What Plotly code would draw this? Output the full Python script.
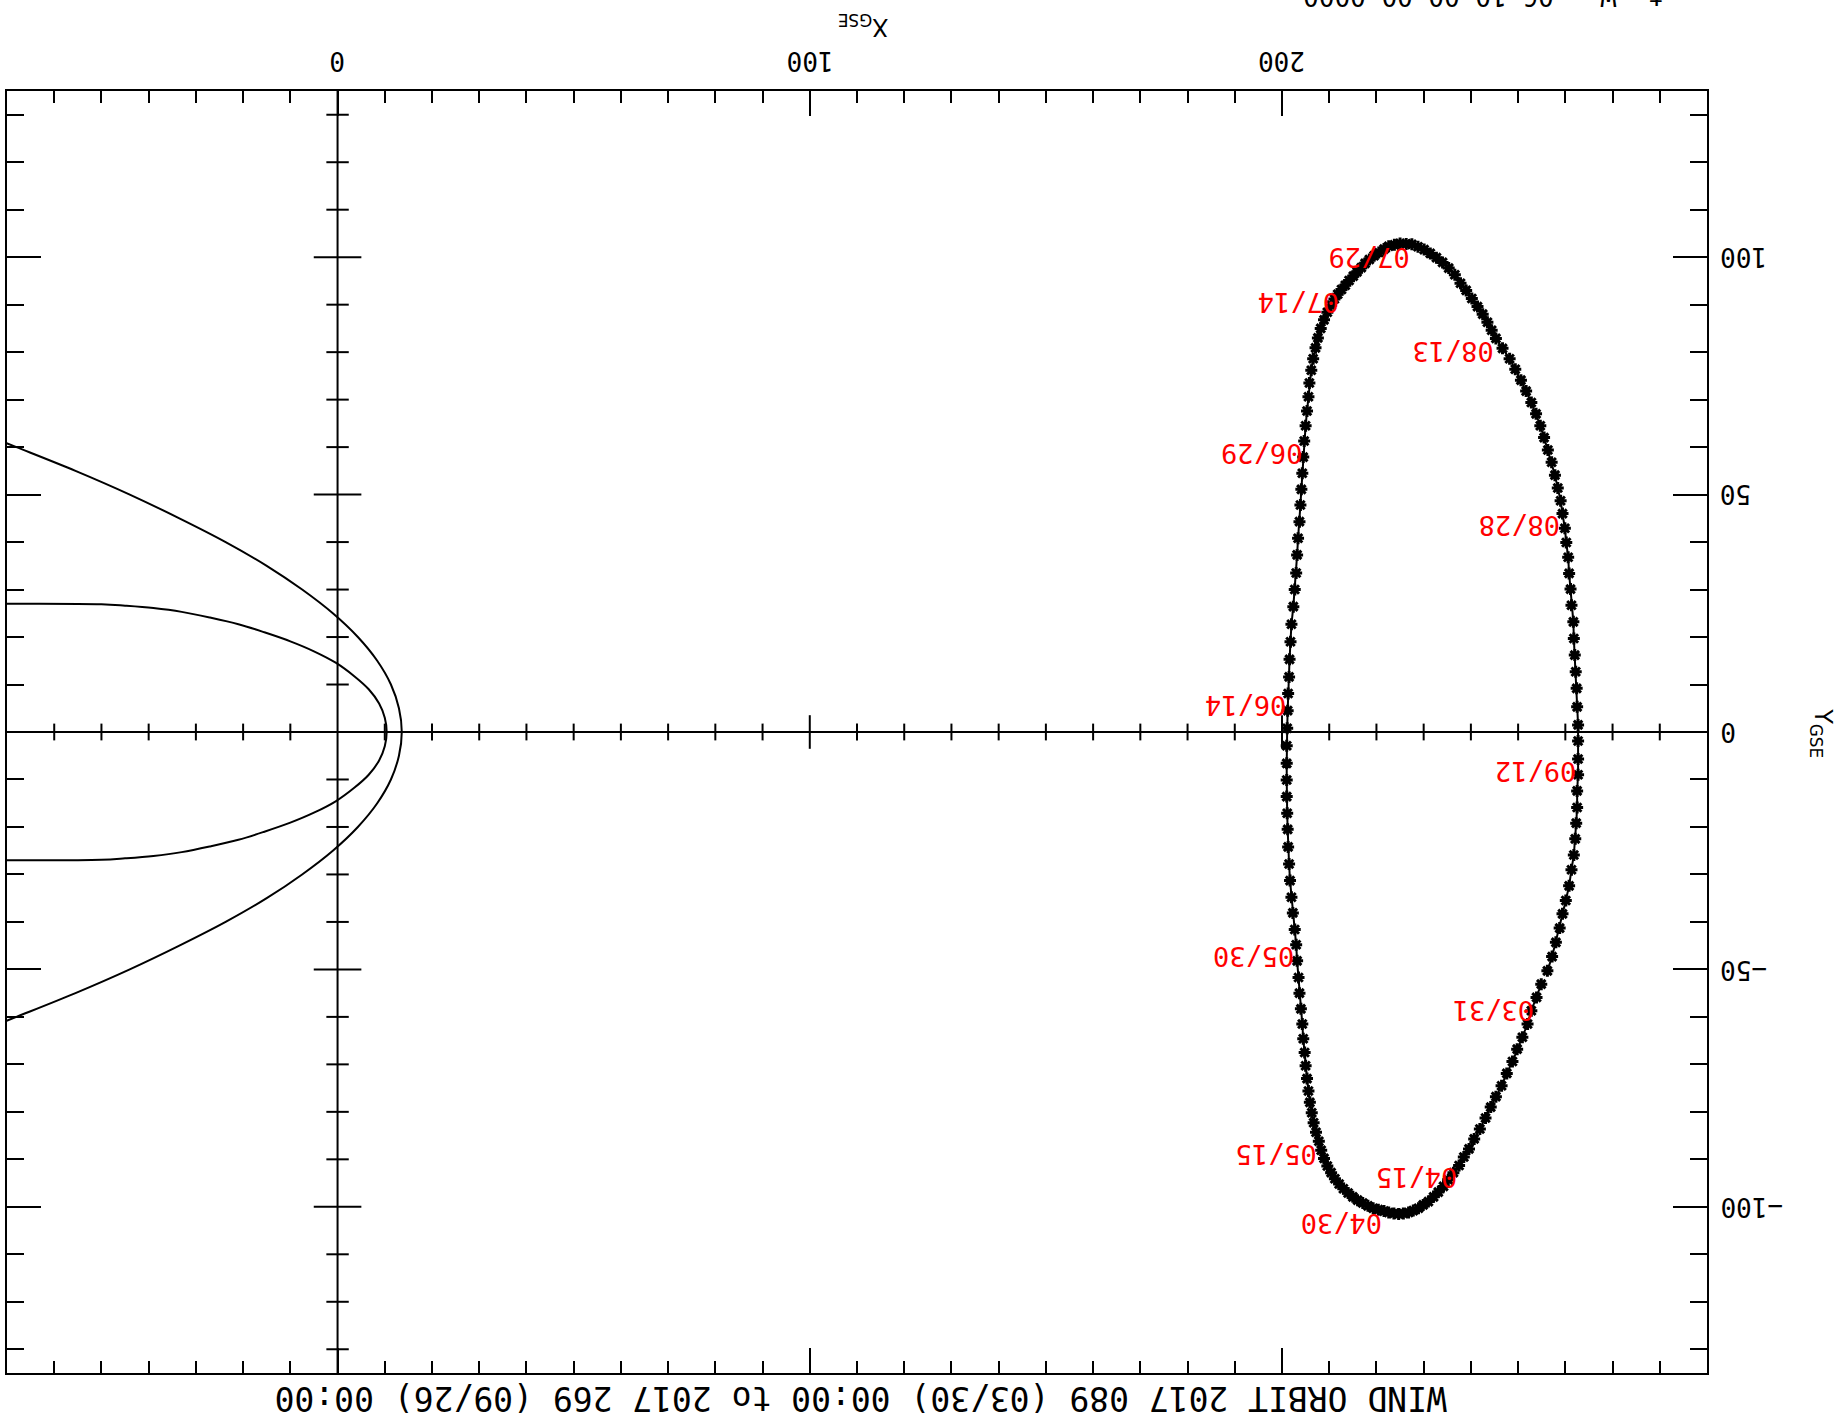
import numpy as np
import plotly.graph_objects as go

# ---------------- data ----------------
# Wind daily positions (GSE, Re), 2017-03-30 .. 2017-09-26
orbit_x = [254.9, 253.9, 252.8, 252.0, 250.9, 249.8, 248.8, 247.6, 246.5, 245.3,
           244.2, 243.1, 241.9, 240.7, 239.6, 238.5, 237.5, 236.3, 235.2, 234.2,
           233.1, 232.1, 231.0, 229.9, 228.9, 227.8, 226.8, 225.7, 224.7, 223.7,
           222.6, 221.6, 220.4, 219.3, 218.2, 217.1, 216.0, 215.0, 214.0, 213.0,
           212.1, 211.2, 210.4, 209.6, 208.9, 208.3, 207.8, 207.2, 206.7, 206.3,
           205.9, 205.6, 205.3, 205.0, 204.8, 204.5, 204.3, 204.0, 203.7, 203.5,
           203.2, 203.0, 202.7, 202.3, 202.0, 201.7, 201.5, 201.3, 201.2, 201.1,
           201.0, 201.0, 201.0, 201.0, 201.1, 201.2, 201.3, 201.5, 201.6, 201.8,
           202.0, 202.4, 202.7, 203.0, 203.2, 203.4, 203.7, 203.9, 204.1, 204.3,
           204.5, 204.7, 205.0, 205.3, 205.6, 205.8, 206.2, 206.6, 207.1, 207.6,
           208.2, 208.9, 209.6, 210.4, 211.1, 211.8, 212.6, 213.4, 214.2, 215.1,
           215.9, 216.8, 217.6, 218.5, 219.5, 220.5, 221.6, 222.6, 223.8, 225.0,
           226.3, 227.5, 228.8, 230.1, 231.4, 232.7, 234.0, 235.3, 236.6, 237.8,
           239.0, 240.2, 241.4, 242.5, 243.5, 244.4, 245.3, 246.7, 248.2, 249.4,
           250.6, 251.7, 252.8, 253.8, 254.7, 255.5, 256.3, 257.1, 257.8, 258.4,
           259.0, 259.4, 259.9, 260.2, 260.6, 260.8, 261.1, 261.3, 261.7, 261.8,
           262.0, 262.2, 262.4, 262.5, 262.7, 262.7, 262.7, 262.7, 262.5, 262.5,
           262.3, 262.1, 261.8, 261.3, 260.8, 260.1, 259.4, 258.8, 258.0, 257.2,
           256.2]
orbit_y = [-53.1, -55.9, -58.7, -61.5, -64.3, -66.8, -69.4, -71.9, -74.5, -76.8,
           -79.0, -81.3, -83.6, -85.7, -87.8, -89.5, -91.3, -92.8, -94.3, -95.7,
           -96.9, -97.9, -98.9, -99.6, -100.3, -100.8, -101.2, -101.4, -101.5, -101.4,
           -101.2, -100.9, -100.6, -100.3, -99.8, -99.2, -98.6, -97.9, -97.1, -96.2,
           -95.2, -94.1, -92.8, -91.4, -89.8, -88.1, -86.2, -84.3, -82.3, -80.2,
           -78.0, -75.6, -73.0, -70.3, -67.5, -64.6, -61.5, -58.3, -55.0, -51.7,
           -48.2, -44.8, -41.6, -38.1, -34.8, -31.3, -27.8, -24.2, -20.5, -17.1,
           -13.6, -10.1, -6.6, -2.9, 0.8, 4.5, 8.1, 11.6, 15.3, 19.0,
           22.7, 26.4, 30.0, 33.5, 37.3, 40.8, 44.3, 47.8, 51.1, 54.5,
           57.9, 61.3, 64.5, 67.6, 70.6, 73.5, 76.2, 78.6, 80.9, 83.0,
           85.0, 86.8, 88.4, 89.9, 91.2, 92.2, 93.2, 94.1, 95.1, 96.0,
           96.9, 97.8, 98.7, 99.5, 100.3, 101.0, 101.7, 102.3, 102.6, 102.9,
           102.8, 102.7, 102.2, 101.6, 100.8, 99.9, 98.9, 97.7, 96.3, 94.5,
           93.0, 91.3, 89.6, 88.0, 86.3, 84.6, 82.9, 80.8, 78.6, 76.4,
           74.1, 71.8, 69.4, 67.0, 64.5, 62.0, 59.4, 56.8, 54.1, 51.4,
           48.7, 46.0, 42.9, 39.9, 36.8, 33.4, 30.1, 26.7, 23.2, 19.7,
           16.2, 12.7, 9.2, 5.3, 1.5, -1.9, -5.7, -9.0, -12.4, -15.9,
           -19.2, -22.5, -25.9, -29.0, -32.4, -35.5, -38.3, -41.3, -44.3, -47.3,
           -50.3]

date_labels = ["03/31", "04/15", "04/30", "05/15", "05/30", "06/14",
               "06/29", "07/14", "07/29", "08/13", "08/28", "09/12"]
date_label_day = [1, 16, 31, 46, 61, 76, 91, 106, 121, 136, 151, 166]

# bow shock (outer) model curve
bow_x = [-70.5, -68.0, -55.5, -44.0, -33.5, -23.7, -15.0, -7.5, -1.0, 4.3, 8.4, 11.3, 13.0, 13.6,
         13.0, 11.3, 8.4, 4.3, -1.0, -7.5, -15.0, -23.7, -33.5, -44.0, -55.5, -68.0, -70.5]
bow_y = [61.0, 60.0, 55.0, 50.0, 45.0, 40.0, 35.0, 30.0, 25.0, 20.0, 15.0, 10.0, 5.0, 0.0,
         -5.0, -10.0, -15.0, -20.0, -25.0, -30.0, -35.0, -40.0, -45.0, -50.0, -55.0, -60.0, -61.0]
# magnetopause (inner) model curve
mp_x = [-70.0, -50.0, -45.0, -39.0, -33.0, -27.0, -21.0, -15.5, -10.0, -5.0, -0.4, 3.6, 6.6, 8.8, 10.0, 10.4,
        10.0, 8.8, 6.6, 3.6, -0.4, -5.0, -10.0, -15.5, -21.0, -27.0, -33.0, -39.0, -45.0, -50.0, -70.0]
mp_y = [27.0, 26.9, 26.6, 26.1, 25.3, 24.1, 22.7, 21.0, 19.1, 17.0, 14.6, 11.7, 9.0, 6.0, 3.0, 0.0,
        -3.0, -6.0, -9.0, -11.7, -14.6, -17.0, -19.1, -21.0, -22.7, -24.1, -25.3, -26.1, -26.6, -26.9, -27.0]

x_range = [-70, 290]
y_range = [-135, 135]
x_major = [0, 100, 200]
y_major = [-100, -50, 0, 50, 100]
x_tick_text = ["0", "100", "200"]
y_tick_text = ["\u2212100", "\u221250", "0", "50", "100"]

title_text = "WIND ORBIT 2017 089 (03/30) 00:00 to 2017 269 (09/26) 00:00"
footer_text = "t  W   06 10 00 00 0000"

MONO = "DejaVu Sans Mono"

fig = go.Figure()

# model boundaries
fig.add_trace(go.Scatter(x=bow_x, y=bow_y, mode="lines", line=dict(color="black", width=2),
                         line_shape="spline", hoverinfo="skip"))
fig.add_trace(go.Scatter(x=mp_x, y=mp_y, mode="lines", line=dict(color="black", width=2),
                         line_shape="spline", hoverinfo="skip"))

# zero axes with ticks
x_minor_vals = [v for v in np.arange(-60, 290, 10) if v not in x_major]
y_minor_vals = [v for v in np.arange(-130, 140, 10) if v not in y_major]

fig.add_shape(type="line", xref="paper", yref="y", x0=0, x1=1, y0=0, y1=0,
              line=dict(color="black", width=2))
fig.add_shape(type="line", xref="x", yref="paper", x0=0, x1=0, y0=0, y1=1,
              line=dict(color="black", width=2))

fig.add_trace(go.Scatter(x=x_minor_vals, y=[0] * len(x_minor_vals), mode="markers",
                         marker=dict(symbol="line-ns", size=12, line=dict(color="black", width=2)),
                         hoverinfo="skip"))
fig.add_trace(go.Scatter(x=[v for v in x_major if v != 0], y=[0, 0], mode="markers",
                         marker=dict(symbol="line-ns", size=24, line=dict(color="black", width=2)),
                         hoverinfo="skip"))
fig.add_trace(go.Scatter(x=[0] * len(y_minor_vals), y=y_minor_vals, mode="markers",
                         marker=dict(symbol="line-ew", size=16, line=dict(color="black", width=2)),
                         hoverinfo="skip"))
fig.add_trace(go.Scatter(x=[0] * 4, y=[v for v in y_major if v != 0], mode="markers",
                         marker=dict(symbol="line-ew", size=34, line=dict(color="black", width=2)),
                         hoverinfo="skip"))

# orbit
fig.add_trace(go.Scatter(x=orbit_x, y=orbit_y, mode="lines+markers",
                         line=dict(color="black", width=2),
                         marker=dict(symbol="asterisk-open", size=10,
                                     line=dict(color="black", width=3)),
                         hoverinfo="skip"))

annotations = []
# date labels (upside down, top-right corner at the marker)
for lab, d in zip(date_labels, date_label_day):
    annotations.append(dict(x=orbit_x[d], y=orbit_y[d], xref="x", yref="y", text=lab,
                            showarrow=False, textangle=180, xanchor="right", yanchor="top",
                            yshift=5, font=dict(family=MONO, size=27, color="red")))
# x tick labels (top)
for v, t in zip(x_major, x_tick_text):
    annotations.append(dict(x=v, y=1.0235, xref="x", yref="paper", text=t, showarrow=False,
                            textangle=180, xanchor="center", yanchor="middle",
                            font=dict(family=MONO, size=26, color="black")))
# y tick labels (right)
for v, t in zip(y_major, y_tick_text):
    annotations.append(dict(x=1.0065, y=v, xref="paper", yref="y", text=t, showarrow=False,
                            textangle=180, xanchor="left", yanchor="middle",
                            font=dict(family=MONO, size=26, color="black")))
# axis titles
annotations.append(dict(x=0.5037, y=1.051, xref="paper", yref="paper", text="X<sub>GSE</sub>",
                        showarrow=False, textangle=180, xanchor="center", yanchor="middle",
                        font=dict(family="DejaVu Sans", size=24, color="black")))
annotations.append(dict(x=1.0677, y=0.499, xref="paper", yref="paper", text="Y<sub>GSE</sub>",
                        showarrow=False, textangle=90, xanchor="center", yanchor="middle",
                        font=dict(family="DejaVu Sans", size=24, color="black")))
# main title (upside down, below plot)
annotations.append(dict(x=0.5023, y=-0.0195, xref="paper", yref="paper", text=title_text,
                        showarrow=False, textangle=180, xanchor="center", yanchor="middle",
                        font=dict(family=MONO, size=33, color="black")))
# cut-off footer text at the top edge
annotations.append(dict(x=0.8686, y=1.0741, xref="paper", yref="paper", text=footer_text,
                        showarrow=False, textangle=180, xanchor="center", yanchor="middle",
                        font=dict(family=MONO, size=26, color="black")))

fig.update_layout(
    width=1843, height=1422,
    margin=dict(l=5, r=136, t=91, b=49),
    paper_bgcolor="white", plot_bgcolor="white",
    showlegend=False,
    annotations=annotations,
    xaxis=dict(range=x_range, side="top", showgrid=False, zeroline=False,
               showline=True, linecolor="black", linewidth=2, mirror="ticks",
               tickmode="array", tickvals=x_major, ticks="inside", ticklen=25,
               tickwidth=2, tickcolor="black", showticklabels=False,
               minor=dict(tickmode="linear", tick0=0, dtick=10, ticks="inside",
                          ticklen=12, tickwidth=2, tickcolor="black", showgrid=False)),
    yaxis=dict(range=y_range, side="right", showgrid=False, zeroline=False,
               showline=True, linecolor="black", linewidth=2, mirror="ticks",
               tickmode="array", tickvals=y_major, ticks="inside", ticklen=34,
               tickwidth=2, tickcolor="black", showticklabels=False,
               minor=dict(tickmode="linear", tick0=0, dtick=10, ticks="inside",
                          ticklen=17, tickwidth=2, tickcolor="black", showgrid=False)),
)

fig.write_html("out.html", config={"displayModeBar": False},
               post_script="document.body.style.margin='0px';")
